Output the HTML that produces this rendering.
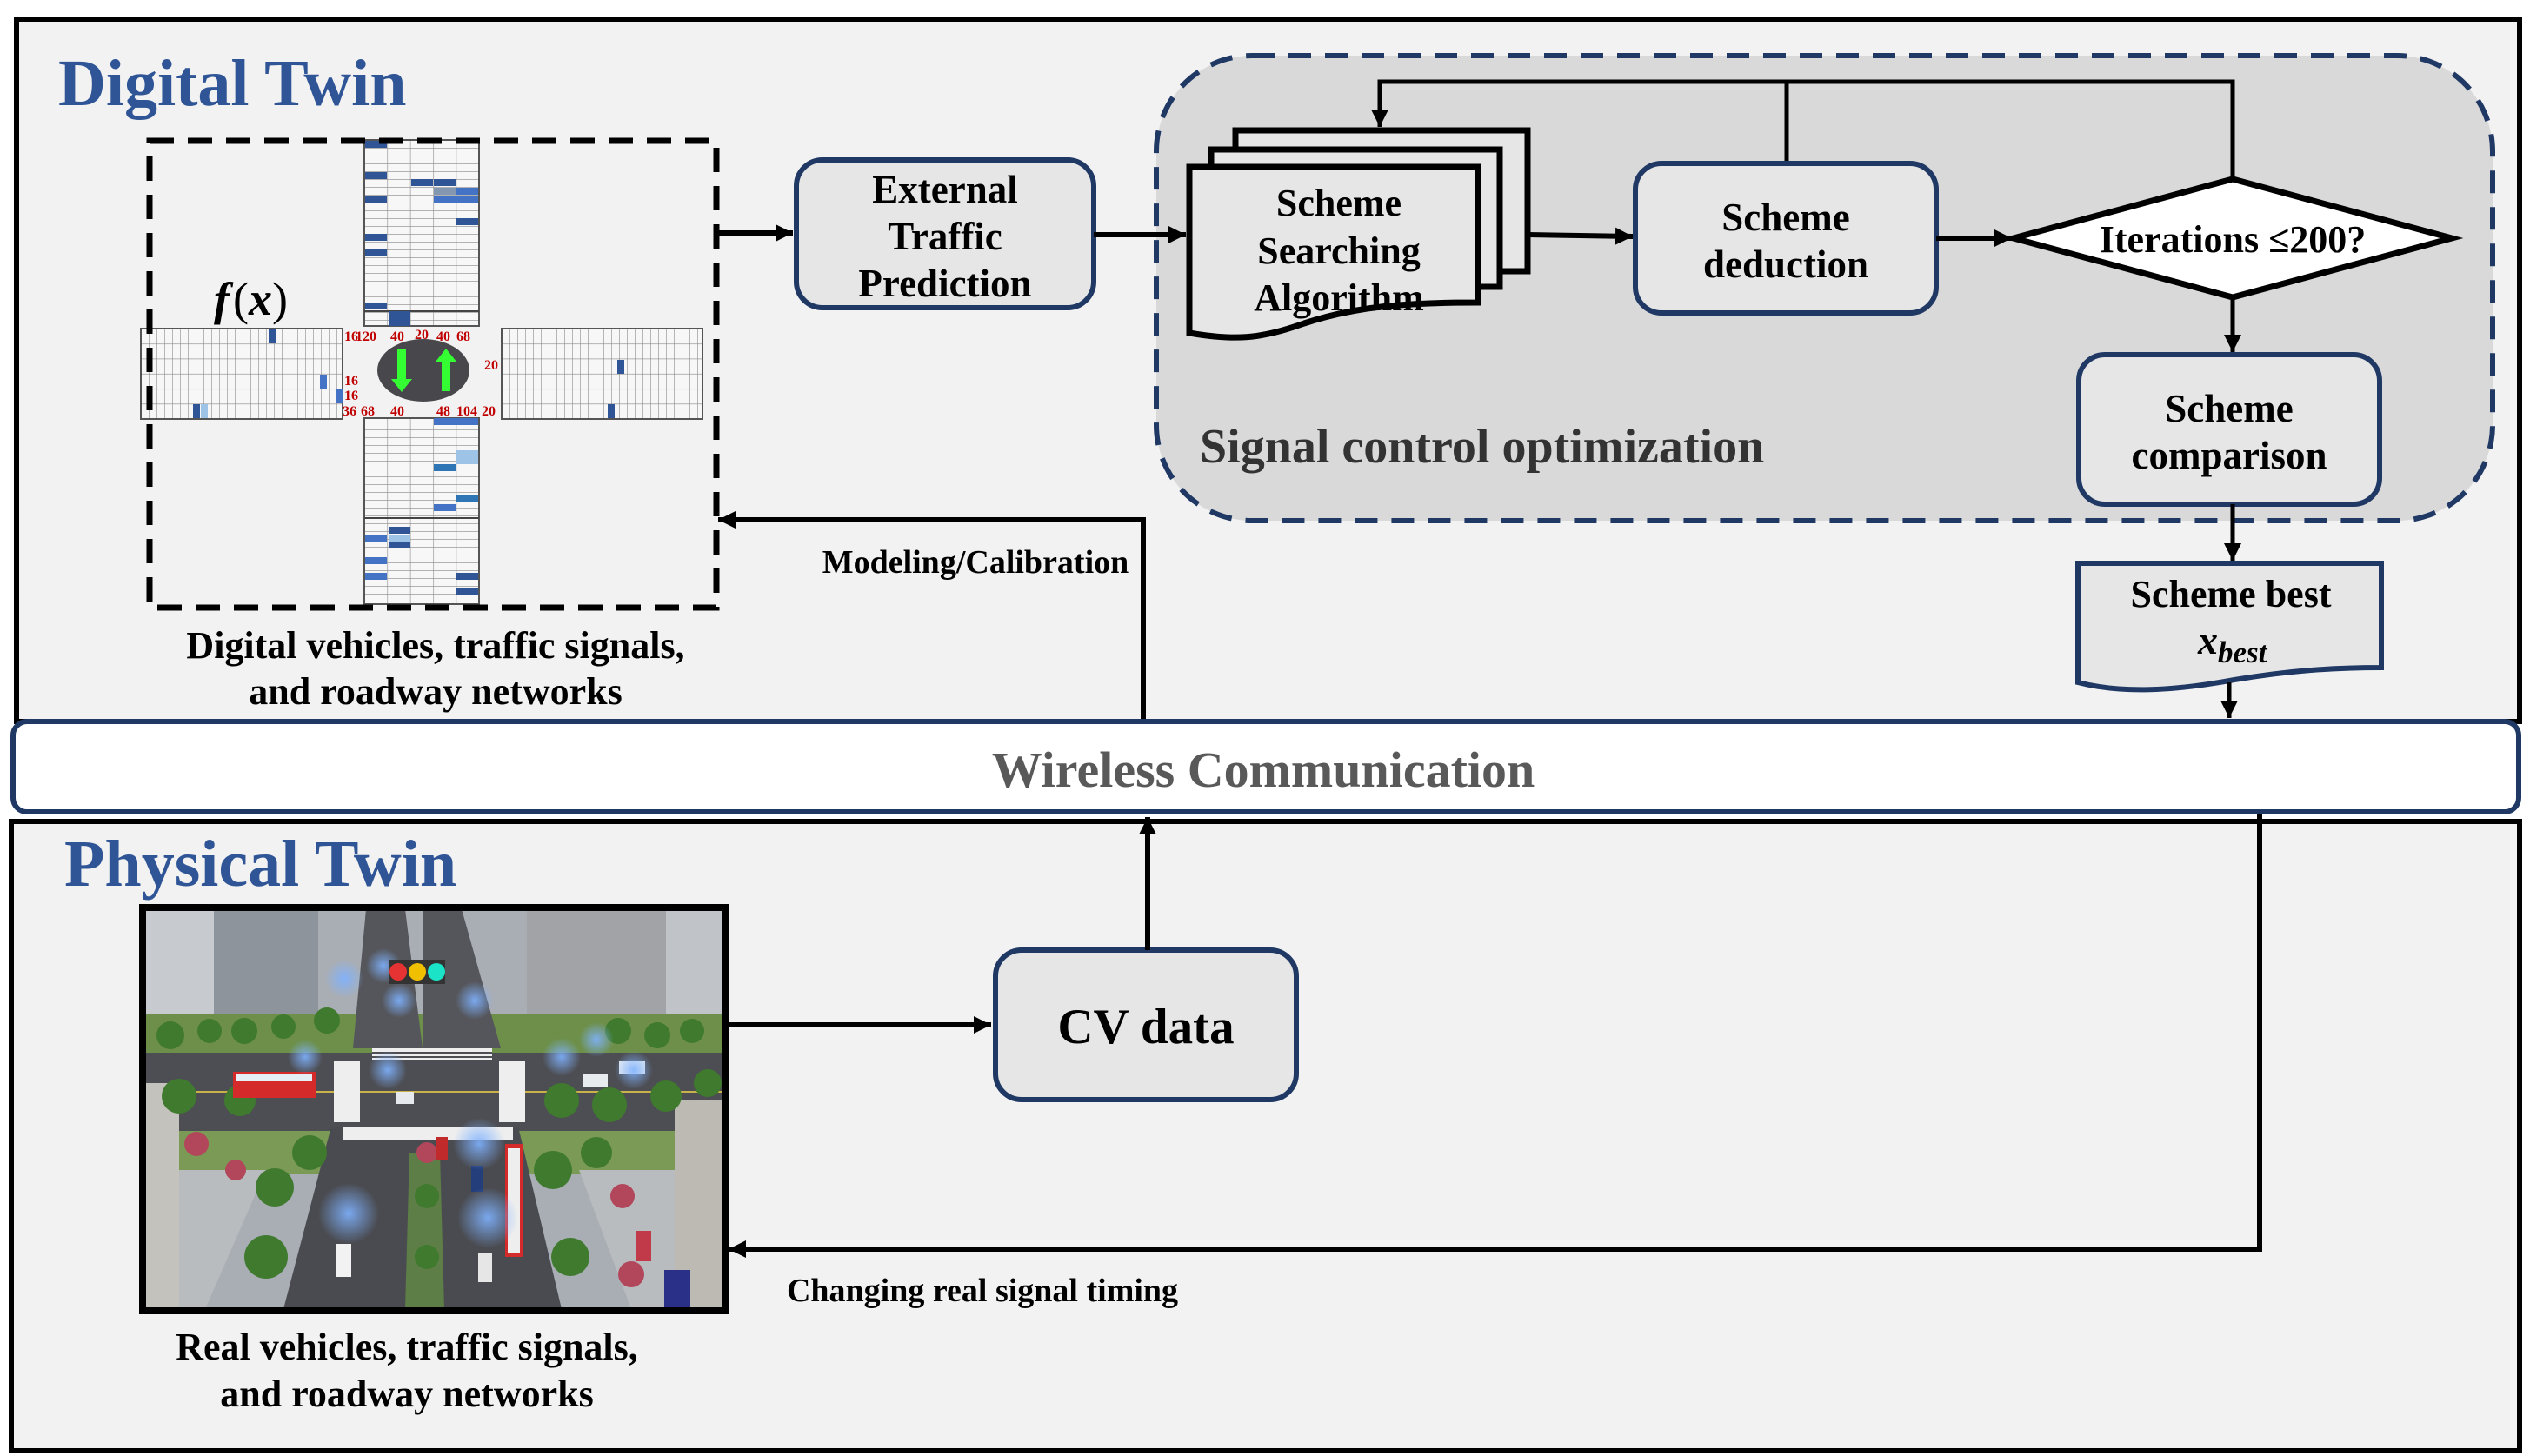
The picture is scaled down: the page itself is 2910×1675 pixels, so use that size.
<!DOCTYPE html>
<html><head><meta charset="utf-8"><style>
html,body{margin:0;padding:0;background:#fff}
svg{display:block}
text{font-family:"Liberation Serif",serif;font-weight:bold}
</style></head><body>
<svg width="2910" height="1675" viewBox="0 0 2910 1675" xmlns="http://www.w3.org/2000/svg">
<defs>
<marker id="a2" viewBox="0 0 10 10" refX="10" refY="5" markerWidth="20" markerHeight="20" orient="auto" markerUnits="userSpaceOnUse"><path d="M0,0 L10,5 L0,10 z" fill="#000"/></marker>
<pattern id="gv" x="419" y="161" width="26.4" height="9" patternUnits="userSpaceOnUse"><rect width="26.4" height="9" fill="#f7f7f7"/><path d="M0,0H26.4M0,0V9" stroke="#8a8a8a" stroke-width="1.2" fill="none"/></pattern>
<pattern id="gh" x="162" y="378" width="9" height="17.3" patternUnits="userSpaceOnUse"><rect width="9" height="17.3" fill="#f7f7f7"/><path d="M0,0H9M0,0V17.3" stroke="#8a8a8a" stroke-width="1.2" fill="none"/></pattern>
<pattern id="gh2" x="577" y="378" width="9" height="17.3" patternUnits="userSpaceOnUse"><rect width="9" height="17.3" fill="#f7f7f7"/><path d="M0,0H9M0,0V17.3" stroke="#8a8a8a" stroke-width="1.2" fill="none"/></pattern>
<radialGradient id="wf" cx="0.5" cy="0.5" r="0.5"><stop offset="0" stop-color="#7fb2ff" stop-opacity="0.9"/><stop offset="1" stop-color="#7fb2ff" stop-opacity="0"/></radialGradient>
</defs>

<!-- Top panel -->
<rect x="19" y="22" width="2879" height="808" fill="#f2f2f2" stroke="#000" stroke-width="6"/>
<text x="67" y="121" font-size="76" fill="#2f5597">Digital Twin</text>

<!-- grids -->
<rect x="419" y="161" width="132" height="214" fill="url(#gv)" stroke="#555" stroke-width="2"/>
<rect x="419" y="481" width="132" height="214" fill="url(#gv)" stroke="#555" stroke-width="2"/>
<line x1="419" y1="358" x2="551" y2="358" stroke="#444" stroke-width="2"/>
<line x1="419" y1="596" x2="551" y2="596" stroke="#444" stroke-width="2"/>
<rect x="162" y="378" width="232" height="104" fill="url(#gh)" stroke="#555" stroke-width="2"/>
<rect x="577" y="378" width="231" height="104" fill="url(#gh2)" stroke="#555" stroke-width="2"/>
<g fill="#2f5597">
<rect x="420" y="162" width="25" height="8"/><rect x="420" y="198" width="25" height="8"/><rect x="420" y="225" width="25" height="8"/><rect x="420" y="269" width="25" height="8"/><rect x="420" y="287" width="25" height="8"/><rect x="420" y="348" width="25" height="8"/>
<rect x="447" y="358" width="25" height="17"/><rect x="473" y="206" width="25" height="8"/>
<rect x="499" y="206" width="25" height="8"/><rect x="499" y="225" width="25" height="8" fill="#4472c4"/><rect x="525" y="216" width="25" height="8" fill="#4472c4"/><rect x="525" y="225" width="25" height="8" fill="#4472c4"/><rect x="525" y="251" width="25" height="8"/>
<rect x="499" y="481" width="25" height="8" fill="#4472c4"/><rect x="525" y="481" width="25" height="8" fill="#4472c4"/><rect x="499" y="534" width="25" height="8" fill="#2e75b6"/><rect x="525" y="570" width="25" height="8" fill="#2e75b6"/><rect x="499" y="580" width="25" height="8" fill="#4472c4"/>
<rect x="420" y="615" width="25" height="8" fill="#4472c4"/><rect x="420" y="641" width="25" height="8" fill="#4472c4"/><rect x="420" y="659" width="25" height="8" fill="#4472c4"/><rect x="447" y="606" width="25" height="8"/><rect x="447" y="623" width="25" height="8"/><rect x="525" y="659" width="25" height="8"/><rect x="525" y="677" width="25" height="8"/>
<rect x="309" y="379" width="8" height="16"/><rect x="368" y="431" width="8" height="16" fill="#4472c4"/><rect x="386" y="448" width="8" height="16" fill="#4472c4"/><rect x="222" y="465" width="8" height="16"/><rect x="710" y="414" width="8" height="16"/><rect x="699" y="465" width="8" height="16"/>
</g>
<g fill="#9dc3e6"><rect x="499" y="216" width="25" height="8" fill="#8497b0"/><rect x="525" y="518" width="25" height="8"/><rect x="525" y="526" width="25" height="8"/><rect x="447" y="615" width="25" height="8"/><rect x="231" y="465" width="8" height="16"/></g>
<ellipse cx="487" cy="426" rx="53" ry="36" fill="#48474b"/>
<path d="M457,402 h10 v34 h7 l-12,15 l-12,-15 h7 z" fill="#33ff33"/>
<path d="M508,450 h10 v-34 h7 l-12,-15 l-12,15 h7 z" fill="#33ff33"/>
<g fill="#c00000" font-size="16">
<text x="396" y="392">16</text><text x="409" y="392">120</text><text x="449" y="392">40</text><text x="477" y="390">20</text><text x="502" y="392">40</text><text x="525" y="392">68</text>
<text x="557" y="425">20</text><text x="396" y="443">16</text><text x="396" y="460">16</text>
<text x="394" y="478">36</text><text x="415" y="478">68</text><text x="449" y="478">40</text><text x="502" y="478">48</text><text x="525" y="478">104</text><text x="554" y="478">20</text>
</g>
<text x="246" y="362" font-size="54"><tspan font-style="italic">f</tspan><tspan font-weight="normal" dx="4">(</tspan><tspan font-style="italic">x</tspan><tspan font-weight="normal">)</tspan></text>
<rect x="172" y="162" width="652" height="537" fill="none" stroke="#000" stroke-width="7" stroke-dasharray="28,16"/>
<text x="501" y="757" font-size="44" text-anchor="middle">Digital vehicles, traffic signals,</text>
<text x="501" y="810" font-size="44" text-anchor="middle">and roadway networks</text>

<!-- External traffic prediction -->
<line x1="824" y1="268" x2="912" y2="268" stroke="#000" stroke-width="6" marker-end="url(#a2)"/>
<rect x="916" y="184" width="342" height="170" rx="30" fill="#e7e6e6" stroke="#1f3864" stroke-width="6"/>
<text x="1087" y="233" font-size="45" text-anchor="middle">External</text>
<text x="1087" y="287" font-size="45" text-anchor="middle">Traffic</text>
<text x="1087" y="341" font-size="45" text-anchor="middle">Prediction</text>

<!-- Signal control region -->
<rect x="1330" y="64" width="1537" height="535" rx="110" fill="#d9d9d9" stroke="#1f3864" stroke-width="6" stroke-dasharray="26,16"/>
<text x="1380" y="532" font-size="56" fill="#333">Signal control optimization</text>
<line x1="1258" y1="270" x2="1364" y2="270" stroke="#000" stroke-width="6" marker-end="url(#a2)"/>

<!-- stack -->
<rect x="1421" y="150" width="336" height="162" fill="#e7e6e6" stroke="#000" stroke-width="7"/>
<rect x="1393" y="172" width="332" height="158" fill="#e7e6e6" stroke="#000" stroke-width="7"/>
<path d="M1368,192 H1700 V348 C1620,348 1560,352 1500,372 C1450,390 1420,392 1368,383 Z" fill="#e7e6e6" stroke="#000" stroke-width="7"/>
<text x="1540" y="248" font-size="44" text-anchor="middle">Scheme</text>
<text x="1540" y="303" font-size="44" text-anchor="middle">Searching</text>
<text x="1540" y="357" font-size="44" text-anchor="middle">Algorithm</text>

<!-- feedback loop -->
<polyline points="2568,206 2568,94 1587,94 1587,146" fill="none" stroke="#000" stroke-width="5" marker-end="url(#a2)"/>
<line x1="2055" y1="94" x2="2055" y2="187" stroke="#000" stroke-width="5"/>

<line x1="1757" y1="270" x2="1878" y2="272" stroke="#000" stroke-width="6" marker-end="url(#a2)"/>
<rect x="1881" y="188" width="346" height="172" rx="30" fill="#e7e6e6" stroke="#1f3864" stroke-width="6"/>
<text x="2054" y="265" font-size="45" text-anchor="middle">Scheme</text>
<text x="2054" y="319" font-size="45" text-anchor="middle">deduction</text>

<line x1="2227" y1="274" x2="2314" y2="274" stroke="#000" stroke-width="6" marker-end="url(#a2)"/>
<polygon points="2316,274 2568,206 2820,274 2568,342" fill="#fff" stroke="#000" stroke-width="7"/>
<text x="2568" y="290" font-size="44" text-anchor="middle">Iterations ≤200?</text>

<line x1="2568" y1="342" x2="2568" y2="405" stroke="#000" stroke-width="5" marker-end="url(#a2)"/>
<rect x="2391" y="408" width="346" height="172" rx="30" fill="#e7e6e6" stroke="#1f3864" stroke-width="6"/>
<text x="2564" y="485" font-size="45" text-anchor="middle">Scheme</text>
<text x="2564" y="539" font-size="45" text-anchor="middle">comparison</text>

<line x1="2568" y1="580" x2="2568" y2="645" stroke="#000" stroke-width="5" marker-end="url(#a2)"/>
<path d="M2390,648 H2739 V768 C2680,768 2630,772 2570,782 C2500,795 2440,798 2390,785 Z" fill="#e7e6e6" stroke="#1f3864" stroke-width="6"/>
<text x="2566" y="698" font-size="44" text-anchor="middle">Scheme best</text>
<text x="2528" y="752" font-size="46" font-style="italic">x</text><text x="2551" y="762" font-size="35" font-style="italic">best</text>
<line x1="2564" y1="785" x2="2564" y2="826" stroke="#000" stroke-width="5" marker-end="url(#a2)"/>

<!-- modeling/calibration -->
<polyline points="1315,830 1315,598 826,598" fill="none" stroke="#000" stroke-width="6" marker-end="url(#a2)"/>
<text x="1122" y="659" font-size="38" text-anchor="middle">Modeling/Calibration</text>

<!-- bottom panel -->
<rect x="13" y="945" width="2885" height="724" fill="#f2f2f2" stroke="#000" stroke-width="6"/>
<text x="74" y="1019" font-size="76" fill="#2f5597">Physical Twin</text>

<!-- wireless bar -->
<rect x="15" y="830" width="2882" height="104" rx="16" fill="#fff" stroke="#1f3864" stroke-width="6"/>
<text x="1453" y="905" font-size="58" fill="#595959" text-anchor="middle">Wireless Communication</text>

<!-- scene image -->
<g>
<rect x="164" y="1044" width="670" height="464" fill="#b7bcc2"/>
<svg x="166" y="1046" width="667" height="460" viewBox="0 0 667 460">
<rect width="667" height="460" fill="#a9aeb5"/>
<rect x="0" y="0" width="190" height="140" fill="#c7cace"/>
<rect x="80" y="0" width="120" height="120" fill="#8e949b"/>
<rect x="440" y="0" width="160" height="130" fill="#a2a3a6"/>
<rect x="600" y="0" width="67" height="140" fill="#c0c3c7"/>
<rect x="0" y="120" width="667" height="50" fill="#6d8f4a"/>
<path d="M255,0 H300 L320,160 H240 Z" fill="#55565b"/>
<path d="M320,0 H365 L410,160 H320 Z" fill="#55565b"/>
<rect x="0" y="165" width="667" height="92" fill="#4d4e53"/>
<line x1="0" y1="210" x2="667" y2="210" stroke="#c9b24a" stroke-width="2"/>
<rect x="0" y="255" width="667" height="50" fill="#7a9a55"/>
<path d="M215,250 H430 L480,460 H160 Z" fill="#4a4b50"/>
<path d="M305,280 H340 L345,460 H300 Z" fill="#5d7e46"/>
<path d="M0,300 H140 L70,460 H0 Z" fill="#b9bcbf"/>
<path d="M500,300 H620 L667,400 V460 H560 Z" fill="#b9bcbf"/>
<rect x="0" y="200" width="40" height="260" fill="#c4c2bc"/>
<rect x="610" y="220" width="57" height="240" fill="#bdbab3"/>
<g fill="#eee"><rect x="262" y="160" width="138" height="14"/><rect x="228" y="250" width="196" height="16"/><rect x="218" y="175" width="30" height="70"/><rect x="408" y="175" width="30" height="70"/></g>
<g fill="#4d4e53"><rect x="262" y="164" width="138" height="3"/><rect x="262" y="169" width="138" height="2"/></g>
<g fill="#3f7a2e">
<circle cx="30" cy="145" r="16"/><circle cx="75" cy="140" r="14"/><circle cx="115" cy="140" r="15"/><circle cx="160" cy="135" r="14"/><circle cx="210" cy="128" r="15"/><circle cx="545" cy="140" r="15"/><circle cx="590" cy="145" r="15"/><circle cx="630" cy="140" r="14"/>
<circle cx="40" cy="215" r="20"/><circle cx="110" cy="220" r="18"/><circle cx="480" cy="220" r="20"/><circle cx="535" cy="225" r="20"/><circle cx="600" cy="215" r="18"/><circle cx="648" cy="200" r="16"/>
<circle cx="150" cy="320" r="22"/><circle cx="190" cy="280" r="20"/><circle cx="470" cy="300" r="22"/><circle cx="520" cy="280" r="18"/><circle cx="140" cy="400" r="25"/><circle cx="490" cy="400" r="22"/><circle cx="325" cy="330" r="14"/><circle cx="325" cy="400" r="14"/>
</g>
<g fill="#b2475c"><circle cx="60" cy="270" r="14"/><circle cx="105" cy="300" r="12"/><circle cx="550" cy="330" r="14"/><circle cx="560" cy="420" r="15"/><circle cx="325" cy="280" r="12"/></g>
<rect x="102" y="187" width="95" height="30" fill="#d42a2a"/><rect x="105" y="190" width="88" height="8" fill="#e6eef5"/>
<rect x="415" y="270" width="20" height="130" fill="#d42a2a"/><rect x="418" y="275" width="14" height="120" fill="#eeeeee"/>
<rect x="290" y="210" width="20" height="14" fill="#e6eaee"/><rect x="335" y="262" width="14" height="26" fill="#c02a2a"/>
<rect x="376" y="295" width="14" height="30" fill="#233e7a"/><rect x="220" y="385" width="18" height="38" fill="#f2f2f2"/><rect x="384" y="395" width="16" height="34" fill="#e6e6e6"/>
<rect x="565" y="370" width="18" height="35" fill="#c03a4a"/><rect x="598" y="415" width="30" height="45" fill="#2a2f88"/>
<rect x="546" y="175" width="30" height="14" fill="#e8ecef"/><rect x="505" y="190" width="28" height="14" fill="#e8ecef"/>
<g fill="url(#wf)"><circle cx="230" cy="80" r="22"/><circle cx="275" cy="65" r="20"/><circle cx="293" cy="105" r="20"/><circle cx="380" cy="105" r="22"/><circle cx="185" cy="170" r="20"/><circle cx="280" cy="185" r="22"/><circle cx="480" cy="170" r="22"/><circle cx="520" cy="150" r="20"/><circle cx="563" cy="185" r="22"/><circle cx="235" cy="350" r="35"/><circle cx="395" cy="355" r="35"/><circle cx="385" cy="270" r="30"/></g>
<rect x="281" y="58" width="65" height="28" fill="#333"/>
<circle cx="292" cy="72" r="10" fill="#e53232"/><circle cx="314" cy="72" r="10" fill="#f0c000"/><circle cx="336" cy="72" r="10" fill="#1be3c8"/>
</svg>
<rect x="164" y="1044" width="670" height="464" fill="none" stroke="#000" stroke-width="8"/>
</g>
<text x="468" y="1564" font-size="44" text-anchor="middle">Real vehicles, traffic signals,</text>
<text x="468" y="1618" font-size="44" text-anchor="middle">and roadway networks</text>

<!-- CV data -->
<line x1="838" y1="1179" x2="1140" y2="1179" stroke="#000" stroke-width="6" marker-end="url(#a2)"/>
<rect x="1145" y="1093" width="346" height="172" rx="30" fill="#e7e6e6" stroke="#1f3864" stroke-width="6"/>
<text x="1318" y="1200" font-size="57" text-anchor="middle">CV data</text>
<line x1="1320" y1="1093" x2="1320" y2="940" stroke="#000" stroke-width="6" marker-end="url(#a2)"/>

<!-- return -->
<polyline points="2599,936 2599,1437 838,1437" fill="none" stroke="#000" stroke-width="6" marker-end="url(#a2)"/>
<text x="1130" y="1497" font-size="38" text-anchor="middle">Changing real signal timing</text>
</svg>
</body></html>
